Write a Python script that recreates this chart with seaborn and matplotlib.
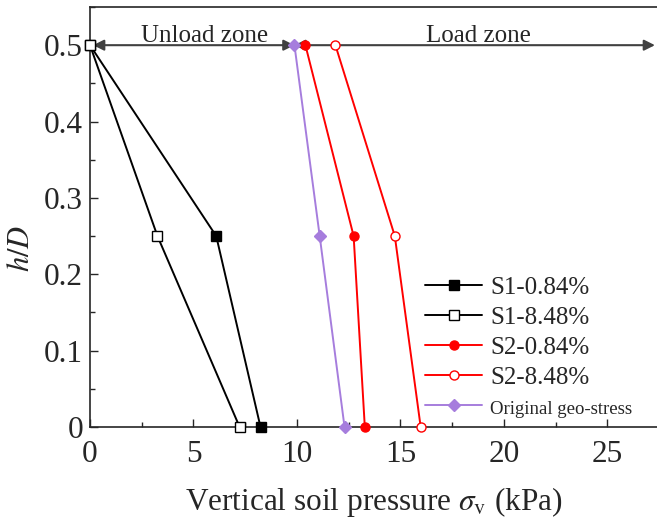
import numpy as np
import pandas as pd
import matplotlib
matplotlib.use("Agg")
import matplotlib.pyplot as plt
import seaborn as sns

# Relative depth levels
h_over_d = [0.5, 0.25, 0.0]

# Vertical soil pressure (kPa) at each depth level
s1_084 = [0.0, 6.1, 8.24]
s1_848 = [0.0, 3.26, 7.23]
s2_084 = [10.41, 12.74, 13.28]
s2_848 = [11.86, 14.73, 15.98]
geo_stress = [9.88, 11.1, 12.3]

series_names = ["S1-0.84%", "S1-8.48%", "S2-0.84%", "S2-8.48%", "Original geo-stress"]
series_values = [s1_084, s1_848, s2_084, s2_848, geo_stress]

x_ticks = [0, 5, 10, 15, 20, 25]
y_ticks = [0, 0.1, 0.2, 0.3, 0.4, 0.5]
y_tick_labels = ["0", "0.1", "0.2", "0.3", "0.4", "0.5"]

zone_split = 9.88   # boundary between unload and load zones (kPa)
zone_end = 27.3

sns.set_style("ticks")
plt.rcParams["font.family"] = ["Liberation Serif", "DejaVu Serif"]
plt.rcParams["mathtext.fontset"] = "stix"
plt.rcParams["xtick.direction"] = "in"
plt.rcParams["ytick.direction"] = "in"

styles = {
    "S1-0.84%": dict(color="black", marker="s", mfc="black", mec="black"),
    "S1-8.48%": dict(color="black", marker="s", mfc="white", mec="black"),
    "S2-0.84%": dict(color="#ff0000", marker="o", mfc="#ff0000", mec="#ff0000"),
    "S2-8.48%": dict(color="#ff0000", marker="o", mfc="white", mec="#ff0000"),
    "Original geo-stress": dict(color="#a67ddd", marker="D", mfc="#a67ddd", mec="#a67ddd"),
}

fig = plt.figure(figsize=(6.57, 5.21), dpi=100)
ax = fig.add_axes([90 / 657, 94 / 521, 567 / 657, 420 / 521])

for name, vals in zip(series_names, series_values):
    df = pd.DataFrame({"p": vals, "h": h_over_d})
    st = styles[name]
    sns.lineplot(data=df, x="p", y="h", sort=False, ax=ax, label=name,
                 color=st["color"], marker=st["marker"], linewidth=1.4,
                 markersize=6.5 if st["marker"] != "D" else 6,
                 markerfacecolor=st["mfc"], markeredgecolor=st["mec"],
                 markeredgewidth=1.0, clip_on=False, zorder=3)

ax.set_xlim(0, 27.4)
ax.set_ylim(0, 0.55)
ax.set_xticks(x_ticks)
ax.set_xticks(np.arange(0, 27.4, 2.5), minor=True)
ax.set_yticks(y_ticks)
ax.set_yticklabels(y_tick_labels)
ax.set_yticks(np.arange(0, 0.551, 0.05), minor=True)
ax.tick_params(axis="both", which="major", labelsize=22.5, length=6, width=1.0, pad=5)
ax.tick_params(axis="x", which="major", pad=9)
ax.tick_params(axis="both", which="minor", length=3.5, width=1.0)
for s in ax.spines.values():
    s.set_linewidth(1.2)
ax.spines["right"].set_visible(False)

ax.set_xlabel(r"Vertical soil pressure $\sigma_{\rm v}$ (kPa)", fontsize=22.5, labelpad=12)
ax.set_ylabel(r"$h/D$", fontsize=22, labelpad=8)
ax.yaxis.set_label_coords(-0.095, 0.426)

# Zone arrows along the top level
arrow_kw = dict(arrowstyle="<|-|>", color="#404040", lw=1.5, mutation_scale=16,
                shrinkA=0, shrinkB=0)
ax.annotate("", xy=(0.15, 0.5), xytext=(zone_split, 0.5), arrowprops=arrow_kw, zorder=2)
ax.annotate("", xy=(zone_split, 0.5), xytext=(zone_end, 0.5), arrowprops=arrow_kw, zorder=2)
ax.text(5.56, 0.5045, "Unload zone", fontsize=18, ha="center", va="baseline")
ax.text(18.75, 0.5045, "Load zone", fontsize=18, ha="center", va="baseline")

leg = ax.legend(loc="upper left", bbox_to_anchor=(0.574, 0.383), frameon=False,
                fontsize=18, handlelength=2.25, handletextpad=0.35,
                labelspacing=0.3, borderaxespad=0)
for t in leg.get_texts():
    if t.get_text() == "Original geo-stress":
        t.set_fontsize(13.5)

fig.savefig("out.png", dpi=100)
